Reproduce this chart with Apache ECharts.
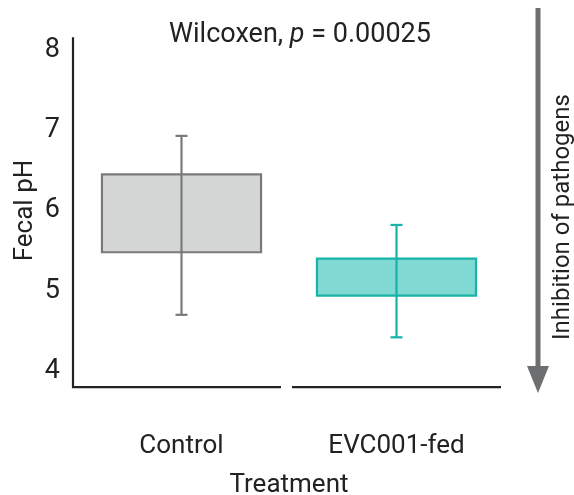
<!DOCTYPE html>
<html>
<head>
<meta charset="utf-8">
<script src="https://cdn.jsdelivr.net/npm/echarts@6/dist/echarts.min.js"></script>
<style>
html,body{margin:0;padding:0;background:#fff;}
#chart{width:574px;height:495px;}
</style>
</head>
<body>
<div id="chart"></div>
<script>
// ---- data ----
var categories = ['Control', 'EVC001-fed'];
var whiskerLow  = [4.70, 4.42];
var boxLow      = [5.48, 4.94];
var boxHigh     = [6.45, 5.40];
var whiskerHigh = [6.93, 5.82];
var yTicks = [4, 5, 6, 7, 8];
var titleText = 'Wilcoxen, p = 0.00025';

var fills   = ['#d4d6d5', '#80d9d3'];
var strokes = ['#7a7a7a', '#17b3a6'];
var FONT = 'Roboto';

var chart = echarts.init(document.getElementById('chart'), null, {renderer: 'canvas'});

var boxData = categories.map(function (c, i) {
  return [i, whiskerLow[i], boxLow[i], boxHigh[i], whiskerHigh[i]];
});

var option = {
  backgroundColor: '#ffffff',
  animation: false,
  title: {
    text: 'Wilcoxen, {i|p} = 0.00025',
    left: 295, top: 17, textAlign: 'center',
    textStyle: {
      fontFamily: FONT, fontSize: 27, fontWeight: 'normal', color: '#222',
      rich: { i: { fontStyle: 'italic', fontFamily: FONT, fontSize: 27, color: '#222' } }
    }
  },
  grid: { left: 74, right: 70, top: 50, bottom: 124, containLabel: false, outerBoundsMode: 'none' },
  xAxis: {
    type: 'category',
    data: categories,
    axisLine: { show: false },
    axisTick: { show: false },
    axisLabel: { fontFamily: FONT, fontSize: 26, color: '#222', margin: 62 },
    name: 'Treatment', nameLocation: 'middle', nameGap: 101,
    nameTextStyle: { fontFamily: FONT, fontSize: 26, color: '#222' }
  },
  yAxis: {
    type: 'value', min: 4, max: 8, interval: 1,
    axisLine: { show: false },
    axisTick: { show: false },
    splitLine: { show: false },
    axisLabel: { fontFamily: FONT, fontSize: 27, color: '#222', margin: 14, padding: [12, 0, 0, 0] },
    name: 'Fecal pH', nameLocation: 'middle', nameGap: 36, nameMoveOverlap: false,
    nameTextStyle: { fontFamily: FONT, fontSize: 26, color: '#222' }
  },
  graphic: [
    { type: 'line', shape: { x1: 538, y1: 8, x2: 538, y2: 368 },
      style: { stroke: '#6d6e70', lineWidth: 5 } },
    { type: 'polygon', shape: { points: [[527, 366], [549, 366], [538, 393]] },
      style: { fill: '#6d6e70' } },
    { type: 'text', x: 563, y: 217, rotation: Math.PI / 2,
      style: { text: 'Inhibition of pathogens', fontFamily: FONT, fontSize: 24, fill: '#222',
               textAlign: 'center', textVerticalAlign: 'middle' } }
  ],
  series: [
    {
      // axis lines (truncated per-category x axis + y axis)
      type: 'custom',
      silent: true,
      data: [[0]],
      renderItem: function (params, api) {
        var cs = params.coordSys;
        var top = api.coord([0, 8.16])[1];
        var bot = api.coord([0, 3.80])[1];
        var xl = cs.x - 1;
        var mid = cs.x + cs.width / 2;
        var xr = cs.x + cs.width - 3;
        return {
          type: 'group',
          children: [
            { type: 'line', shape: { x1: xl, y1: top, x2: xl, y2: bot + 1 }, style: { stroke: '#222', lineWidth: 2.2 } },
            { type: 'line', shape: { x1: xl - 1, y1: bot, x2: mid - 8, y2: bot }, style: { stroke: '#222', lineWidth: 2.2 } },
            { type: 'line', shape: { x1: mid + 3, y1: bot, x2: xr, y2: bot }, style: { stroke: '#222', lineWidth: 2.2 } }
          ]
        };
      }
    },
    {
      type: 'custom',
      data: boxData,
      renderItem: function (params, api) {
        var i = api.value(0);
        var cx = api.coord([i, 0])[0];
        var bw = api.size([1, 0])[0] * 0.74;
        var yWL = api.coord([i, api.value(1)])[1];
        var yBL = api.coord([i, api.value(2)])[1];
        var yBH = api.coord([i, api.value(3)])[1];
        var yWH = api.coord([i, api.value(4)])[1];
        var cap = 6;
        var st = { stroke: strokes[i], lineWidth: 2.2 };
        return {
          type: 'group',
          children: [
            { type: 'rect', shape: { x: cx - bw / 2, y: yBH, width: bw, height: yBL - yBH },
              style: { fill: fills[i], stroke: strokes[i], lineWidth: 2.2 } },
            { type: 'line', shape: { x1: cx, y1: yWL, x2: cx, y2: yWH }, style: st },
            { type: 'line', shape: { x1: cx - cap, y1: yWH, x2: cx + cap, y2: yWH }, style: st },
            { type: 'line', shape: { x1: cx - cap, y1: yWL, x2: cx + cap, y2: yWL }, style: st }
          ]
        };
      }
    }
  ]
};
chart.setOption(option);
</script>
</body>
</html>
